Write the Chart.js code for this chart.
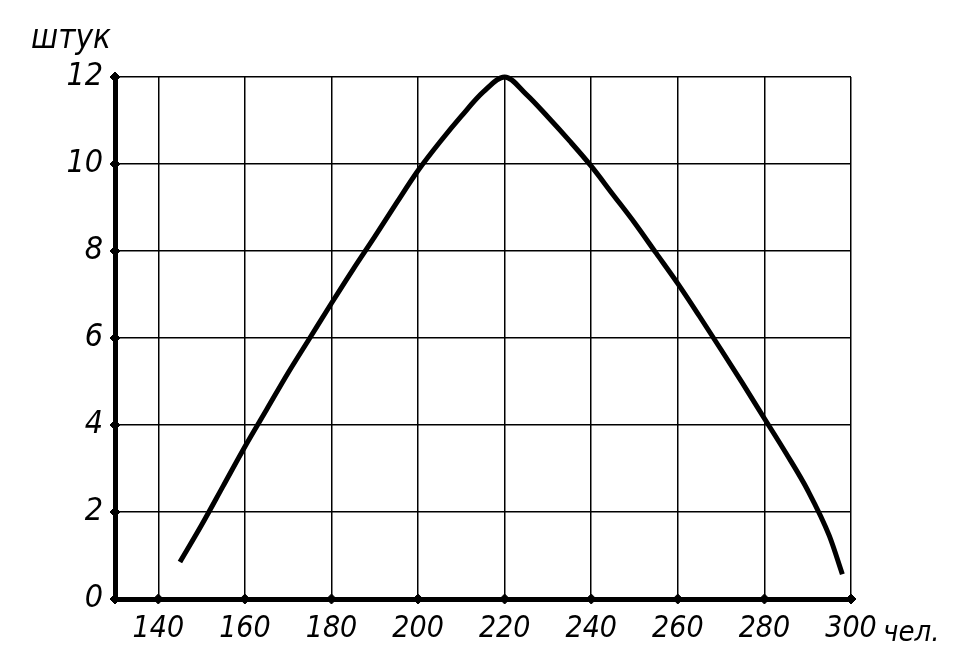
<!DOCTYPE html>
<html>
<head>
<meta charset="utf-8">
<script src="https://cdn.jsdelivr.net/npm/chart.js@4.4.1/dist/chart.umd.min.js"></script>
<style>
html,body{margin:0;padding:0;background:#fff;}
#wrap{width:956px;height:662px;position:relative;}
</style>
</head>
<body>
<div id="wrap"><canvas id="c" width="956" height="662"></canvas></div>
<script>
// ---- data ----
const people = [145, 150, 155, 160, 165, 170, 175, 180, 185, 190, 195, 200, 205, 210, 215, 220, 225, 230, 235, 240, 245, 250, 255, 260, 265, 270, 275, 280, 285, 290, 295, 298];
const pieces = [0.85, 1.7, 2.6, 3.5, 4.35, 5.2, 6.0, 6.8, 7.58, 8.33, 9.1, 9.85, 10.5, 11.1, 11.65, 12.0, 11.6, 11.08, 10.53, 9.95, 9.3, 8.65, 7.95, 7.25, 6.5, 5.73, 4.95, 4.15, 3.35, 2.5, 1.45, 0.57];
const xTicks = [140, 160, 180, 200, 220, 240, 260, 280, 300];
const yTicks = [0, 2, 4, 6, 8, 10, 12];
const xMin = 130, xMax = 300, yMin = 0, yMax = 12;
const yTitle = 'штук';
const xTitle = 'чел.';

const FONT = "'DejaVu Sans Condensed','Liberation Sans',sans-serif";

const curve = people.map((x, i) => ({x: x, y: pieces[i]}));
const yMarks = yTicks.map(v => ({x: xMin, y: v}));
const xMarks = xTicks.map(v => ({x: v, y: yMin}));

const textPlugin = {
  id: 'axisTexts',
  afterDraw(chart) {
    const ctx = chart.ctx;
    const a = chart.chartArea;
    ctx.save();
    ctx.fillStyle = '#000';
    ctx.textBaseline = 'alphabetic';
    ctx.textAlign = 'left';
    ctx.font = 'italic 33px ' + FONT;
    ctx.fillText(yTitle, a.left - 84, a.top - 29);
    ctx.font = 'italic 29px ' + FONT;
    ctx.fillText(xTitle, a.right + 32, a.bottom + 42);
    ctx.restore();
  }
};

new Chart(document.getElementById('c'), {
  type: 'scatter',
  data: {
    datasets: [
      {
        data: curve,
        showLine: true,
        borderColor: '#000',
        borderWidth: 5,
        pointRadius: 0,
        cubicInterpolationMode: 'monotone',
        fill: false,
        clip: false,
        order: 1
      },
      {
        data: yMarks.concat(xMarks),
        showLine: false,
        pointStyle: 'rectRot',
        pointRadius: 5,
        backgroundColor: '#000',
        borderColor: '#000',
        borderWidth: 1,
        clip: false,
        order: 0
      }
    ]
  },
  options: {
    responsive: false,
    animation: false,
    devicePixelRatio: 1,
    layout: {padding: {left: 0, top: 77, right: 105, bottom: 0}},
    plugins: {legend: {display: false}, tooltip: {enabled: false}},
    scales: {
      x: {
        type: 'linear',
        min: xMin, max: xMax,
        afterBuildTicks: s => { s.ticks = xTicks.map(v => ({value: v})); },
        afterFit: s => { s.height = 63; },
        grid: {color: '#000', lineWidth: 1.5, drawTicks: false},
        border: {display: true, color: '#000', width: 5},
        ticks: {
          color: '#000', padding: 12,
          font: {family: FONT, size: 30, style: 'italic'},
          maxRotation: 0, autoSkip: false
        }
      },
      y: {
        type: 'linear',
        min: yMin, max: yMax,
        afterBuildTicks: s => { s.ticks = yTicks.map(v => ({value: v})); },
        afterFit: s => { s.width = 115; },
        grid: {color: '#000', lineWidth: 1.5, drawTicks: false},
        border: {display: true, color: '#000', width: 5},
        ticks: {
          color: '#000', padding: 12,
          font: {family: FONT, size: 32, style: 'italic'},
          autoSkip: false
        }
      }
    }
  },
  plugins: [textPlugin]
});
</script>
</body>
</html>
